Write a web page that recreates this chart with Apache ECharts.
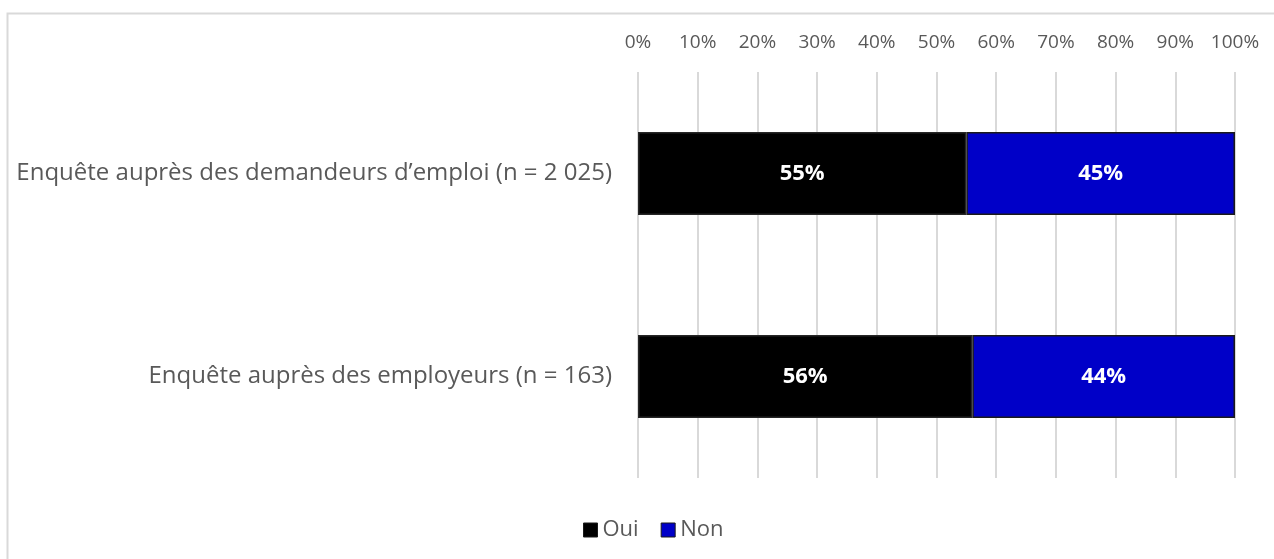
<!DOCTYPE html>
<html>
<head>
<meta charset="utf-8">
<script src="https://cdn.jsdelivr.net/npm/echarts@6/dist/echarts.min.js"></script>
<style>
html,body{margin:0;padding:0;background:#fff;}
#c{width:1274px;height:559px;}
</style>
</head>
<body>
<div id="c"></div>
<script>
const categories = ["Enquête auprès des demandeurs d’emploi (n = 2 025)", "Enquête auprès des employeurs (n = 163)"];
const oui = [55, 56];
const non = [45, 44];
const seriesNames = ["Oui", "Non"];

const FONT = 'Open Sans';
const chart = echarts.init(document.getElementById('c'));
const labelStyle = {show: true, position: 'inside', color: '#fff', fontWeight: 'bold', fontSize: 22, fontFamily: FONT, formatter: p => p.value + '%'};
chart.setOption({
  animation: false,
  graphic: [{type: 'rect', shape: {x: 7.5, y: 13.5, width: 1300, height: 600}, style: {fill: 'none', stroke: '#d9d9d9', lineWidth: 2}, z: -1}],
  grid: {left: 638, right: 39, top: 72, bottom: 81},
  legend: {
    data: seriesNames, bottom: 13, left: 578, itemWidth: 14, itemHeight: 14, itemGap: 22,
    icon: 'rect',
    itemStyle: {borderColor: '#1a1a1a', borderWidth: 1},
    textStyle: {fontSize: 22, color: '#595959', fontFamily: FONT, padding: [0, 0, 0, 0]}
  },
  xAxis: {
    type: 'value', position: 'top', min: 0, max: 100, interval: 10,
    axisLabel: {formatter: '{value}%', fontSize: 19, color: '#595959', fontFamily: FONT, margin: 20},
    axisLine: {show: false}, axisTick: {show: false},
    splitLine: {lineStyle: {color: '#d9d9d9', width: 2}}
  },
  yAxis: {
    type: 'category', data: categories, inverse: true,
    axisLine: {show: false}, axisTick: {show: false},
    axisLabel: {fontSize: 24, color: '#595959', fontFamily: FONT, margin: 26}
  },
  series: [
    {name: 'Oui', type: 'bar', stack: 's', data: oui, barWidth: 83,
     itemStyle: {color: '#000000', borderColor: '#262626', borderWidth: 1.5}, label: labelStyle},
    {name: 'Non', type: 'bar', stack: 's', data: non, barWidth: 83,
     itemStyle: {color: '#0000c8', borderColor: '#1a1a1a', borderWidth: 1.5}, label: labelStyle}
  ]
});
</script>
</body>
</html>
